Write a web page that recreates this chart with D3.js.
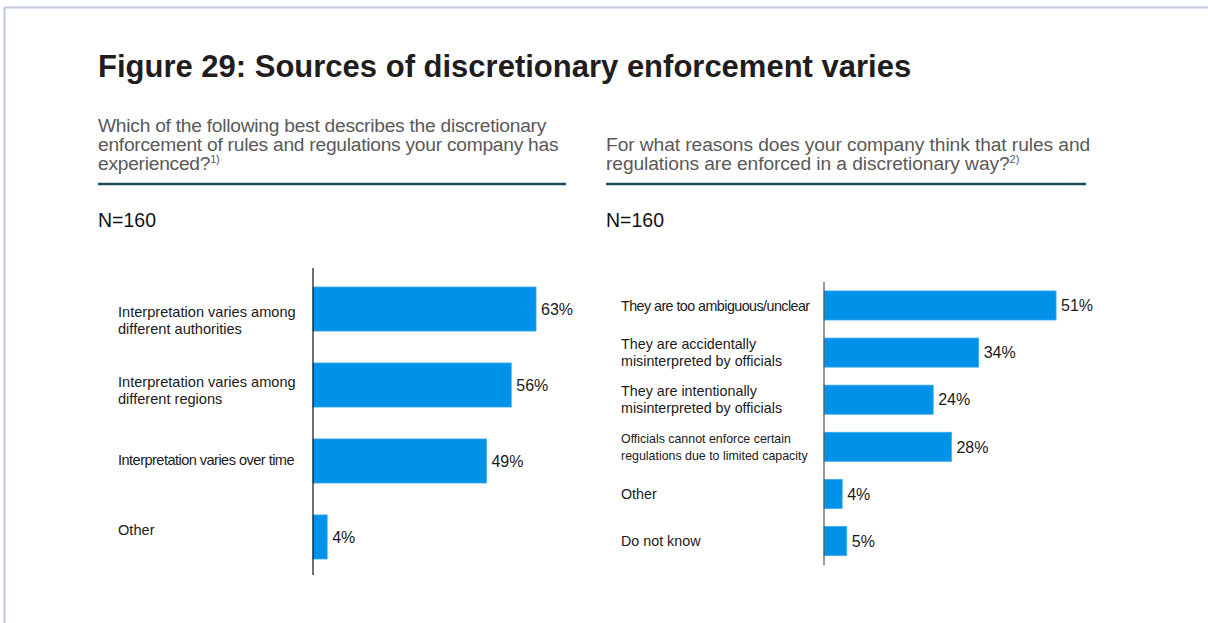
<!DOCTYPE html>
<html>
<head>
<meta charset="utf-8">
<script src="https://cdn.jsdelivr.net/npm/d3@7"></script>
<style>
  html, body { margin: 0; padding: 0; background: #fff; }
  svg { display: block; font-family: "Liberation Sans", Arial, sans-serif; }
</style>
</head>
<body>
<svg id="chart" width="1208" height="623"></svg>
<script>
// Survey answers, left panel: kinds of discretionary enforcement experienced
const leftCategories = [
  "Interpretation varies among\ndifferent authorities",
  "Interpretation varies among\ndifferent regions",
  "Interpretation varies over time",
  "Other"
];
const leftValues = [63, 56, 49, 4];

// Survey answers, right panel: reasons for discretionary enforcement
const rightCategories = [
  "They are too ambiguous/unclear",
  "They are accidentally\nmisinterpreted by officials",
  "They are intentionally\nmisinterpreted by officials",
  "Officials cannot enforce certain\nregulations due to limited capacity",
  "Other",
  "Do not know"
];
const rightValues = [51, 34, 24, 28, 4, 5];

const titleText = "Figure 29: Sources of discretionary enforcement varies";
const leftQuestion = [
  "Which of the following best describes the discretionary",
  "enforcement of rules and regulations your company has",
  "experienced?"
];
const leftNote = "1)";
const rightQuestion = [
  "For what reasons does your company think that rules and",
  "regulations are enforced in a discretionary way?"
];
const rightNote = "2)";
const sampleLabel = "N=160";

const svg = d3.select("#chart");
const BAR = "#0091e9";

// frame lines
svg.append("line").attr("x1", 4.5).attr("x2", 1208).attr("y1", 7.5).attr("y2", 7.5)
  .attr("stroke", "#bfc8dd").attr("stroke-width", 2);
svg.append("line").attr("x1", 4.5).attr("x2", 4.5).attr("y1", 7).attr("y2", 623)
  .attr("stroke", "#bfc8dd").attr("stroke-width", 2);

// title
svg.append("text").attr("x", 98).attr("y", 77)
  .attr("font-size", 31).attr("font-weight", "bold").attr("fill", "#211d1e")
  .text(titleText);

function question(x, lastBaseline, lines, note, ruleWidth, spacing) {
  const g = svg.append("g");
  const lh = 19;
  const first = lastBaseline - lh * (lines.length - 1);
  lines.forEach((l, i) => {
    const t = g.append("text").attr("x", x).attr("y", first + i * lh)
      .attr("font-size", 19.2).attr("fill", "#595959")
      .style("letter-spacing", spacing + "px")
      .text(l);
    if (i === lines.length - 1) {
      t.append("tspan").attr("font-size", 11).attr("dy", -7).text(note);
    }
  });
  g.append("line").attr("x1", x).attr("x2", x + ruleWidth)
    .attr("y1", 184).attr("y2", 184)
    .attr("stroke", "#1b4a5c").attr("stroke-width", 2.5);
  svg.append("text").attr("x", x).attr("y", 227)
    .attr("font-size", 19.5).attr("fill", "#111").text(sampleLabel);
}
question(98, 170, leftQuestion, leftNote, 468, -0.25);
question(606, 170, rightQuestion, rightNote, 480, -0.08);

// per-line typography for category labels (some lines are set tighter)
function lineStyle(line, base) {
  if (line.startsWith("Officials") || line.startsWith("regulations due"))
    return { size: base - 1.9, spacing: 0 };
  if (line.startsWith("They are too") || line.endsWith("over time"))
    return { size: base, spacing: -0.55 };
  return { size: base, spacing: 0 };
}

function panel(opts) {
  const { cats, vals, x0, pxPer, yTop, yBot, padIn, padOut, labelX, labelSize,
          lineH, valueSize, axisColor, labelRange } = opts;
  const y = d3.scaleBand().domain(cats).range([yTop, yBot])
    .paddingInner(padIn).paddingOuter(padOut);
  const x = d3.scaleLinear().domain([0, 100]).range([x0, x0 + 100 * pxPer]);
  // label column has its own vertical rhythm
  const yl = labelRange
    ? d3.scalePoint().domain(cats).range(labelRange)
    : (d => y(d) + y.bandwidth() / 2);
  const g = svg.append("g");

  g.selectAll("rect").data(cats).join("rect")
    .attr("x", x(0))
    .attr("y", d => y(d))
    .attr("width", (d, i) => x(vals[i]) - x(0))
    .attr("height", y.bandwidth())
    .attr("fill", BAR)
    .attr("stroke", "#3fa9ef").attr("stroke-width", 0.8);

  g.selectAll("text.val").data(cats).join("text").attr("class", "val")
    .attr("x", (d, i) => x(vals[i]) + 5)
    .attr("y", d => y(d) + y.bandwidth() / 2)
    .attr("dy", "0.36em")
    .attr("font-size", valueSize).attr("fill", "#1a1a1a")
    .text((d, i) => vals[i] + "%");

  g.selectAll("text.cat").data(cats).join("text").attr("class", "cat")
    .attr("fill", "#1a1a1a")
    .each(function(d) {
      const lines = d.split("\n");
      const mid = yl(d);
      const start = mid - (lines.length - 1) * lineH / 2;
      d3.select(this).selectAll("tspan").data(lines).join("tspan")
        .attr("x", labelX)
        .attr("y", (l, i) => start + i * lineH)
        .attr("dy", "0.36em")
        .attr("font-size", l => lineStyle(l, labelSize).size)
        .style("letter-spacing", l => lineStyle(l, labelSize).spacing + "px")
        .text(l => l);
    });

  g.append("line").attr("x1", x(0)).attr("x2", x(0))
    .attr("y1", opts.axisTop).attr("y2", opts.axisBot)
    .attr("stroke", axisColor).attr("stroke-width", 1.2);
}

panel({
  cats: leftCategories, vals: leftValues, x0: 313, pxPer: 3.54,
  yTop: 268, yBot: 578, padIn: 0.42, padOut: 0.25,
  axisTop: 268, axisBot: 575, labelRange: [320, 530],
  labelX: 118, labelSize: 14.6, lineH: 17.3, valueSize: 16, axisColor: "#111"
});
panel({
  cats: rightCategories, vals: rightValues, x0: 824, pxPer: 4.55,
  yTop: 282, yBot: 564.5, padIn: 0.383, padOut: 0.19,
  axisTop: 282, axisBot: 565, labelRange: null,
  labelX: 621, labelSize: 14.3, lineH: 17, valueSize: 16, axisColor: "#555"
});
</script>
</body>
</html>
